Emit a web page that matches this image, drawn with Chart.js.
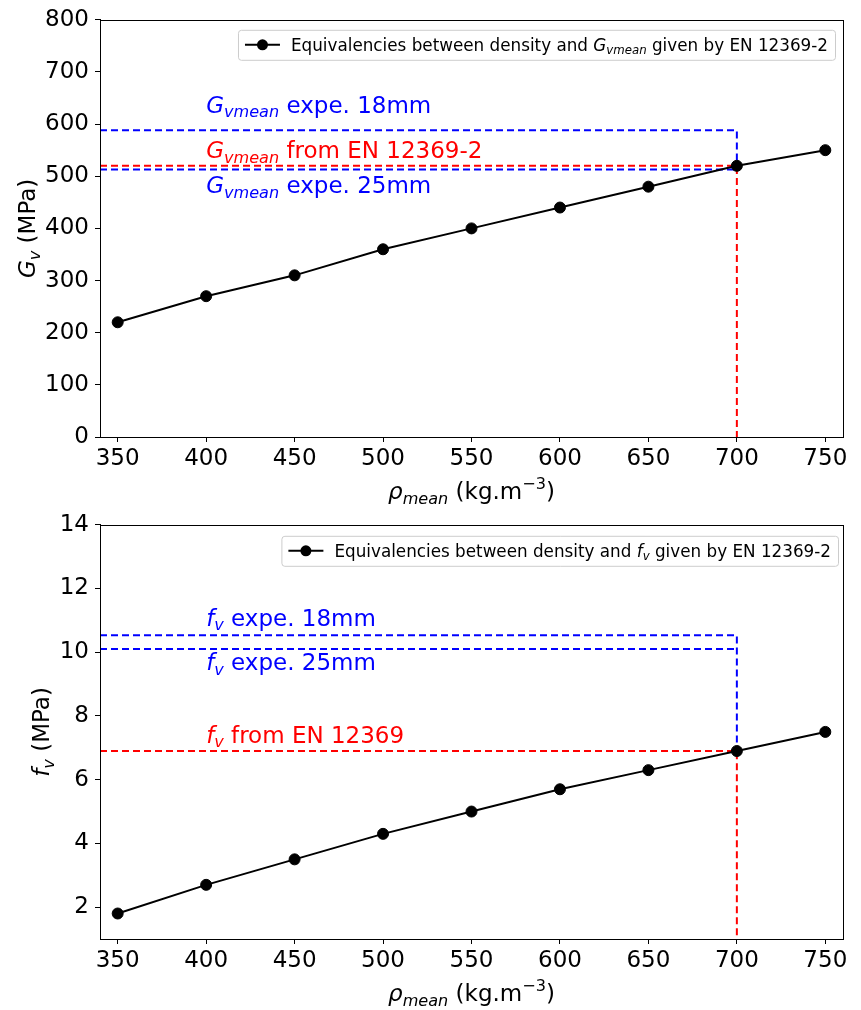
<!DOCTYPE html>
<html>
<head>
<meta charset="utf-8">
<script src="https://cdn.jsdelivr.net/npm/chart.js@4/dist/chart.umd.min.js"></script>
<style>
  html, body { margin: 0; padding: 0; background: #fff; }
  #wrap { position: relative; width: 861px; height: 1010px; }
  canvas { position: absolute; left: 0; }
</style>
</head>
<body>
<div id="wrap">
  <canvas id="gvChart" width="861" height="505" style="top:0"></canvas>
  <canvas id="fvChart" width="861" height="505" style="top:505px"></canvas>
</div>
<script>
// values
const density = [350, 400, 450, 500, 550, 600, 650, 700, 750];
const gvMean = [220, 270, 310, 360, 400, 440, 480, 520, 550];
const fvValues = [1.8, 2.7, 3.5, 4.3, 5.0, 5.7, 6.3, 6.9, 7.5];

const densityTicks = [350, 400, 450, 500, 550, 600, 650, 700, 750];
const gvTicks = [0, 100, 200, 300, 400, 500, 600, 700, 800];
const fvTicks = [2, 4, 6, 8, 10, 12, 14];

const densityRange = [340, 760];
const gvRange = [0, 800];
const fvRange = [1, 14];

// reference lines
const refDensity = 700;
const gvExpe18 = 588, gvExpe25 = 513, gvEN = 520;
const fvExpe18 = 10.53, fvExpe25 = 10.1, fvEN = 6.9;

const FONT = "'DejaVu Sans', sans-serif";
const TXT = 23; // main text size
const BLUE = "#0000ff";
const RED = "#ff0000";

function fontFor(kind, size) {
  const s = (kind === "sub" || kind === "sup") ? size * 0.7 : size;
  const it = (kind === "i" || kind === "sub") ? "italic " : "";
  return it + s + "px " + FONT;
}

function richWidth(ctx, parts, size) {
  let w = 0;
  parts.forEach(([t, k]) => { ctx.font = fontFor(k, size); w += ctx.measureText(t).width; });
  return w;
}

// parts: [text, kind] with kind n / i / sub / sup
function drawRich(ctx, parts, x, y, size, color, align) {
  ctx.save();
  ctx.fillStyle = color;
  ctx.textBaseline = "alphabetic";
  ctx.textAlign = "left";
  let cx = x;
  if (align === "center") cx -= richWidth(ctx, parts, size) / 2;
  parts.forEach(([t, k]) => {
    ctx.font = fontFor(k, size);
    let dy = 0;
    if (k === "sub") dy = size * 0.2;
    if (k === "sup") dy = -size * 0.42;
    ctx.fillText(t, cx, y + dy);
    cx += ctx.measureText(t).width;
  });
  ctx.restore();
}

function dashed(points, color) {
  return {
    data: points,
    borderColor: color,
    borderWidth: 2,
    borderDash: [7, 4],
    pointRadius: 0,
    fill: false,
    tension: 0
  };
}

const xTitle = [["\u03c1", "i"], ["mean", "sub"], [" (kg.m", "n"], ["\u22123", "sup"], [")", "n"]];

function decorPlugin(cfg) {
  return {
    id: "decor",
    afterDraw(chart) {
      const ctx = chart.ctx;
      const ca = chart.chartArea;
      const xs = chart.scales.x, ys = chart.scales.y;

      // frame
      ctx.save();
      ctx.strokeStyle = "#000";
      ctx.lineWidth = 1;
      ctx.strokeRect(Math.round(ca.left) + 0.5, Math.round(ca.top) + 0.5,
        Math.round(ca.right - ca.left), Math.round(ca.bottom - ca.top));
      ctx.restore();

      // annotations
      cfg.notes.forEach(n => {
        drawRich(ctx, n.parts, xs.getPixelForValue(n.x), ys.getPixelForValue(n.y), TXT, n.color, "left");
      });

      // axis titles
      drawRich(ctx, xTitle, (ca.left + ca.right) / 2, cfg.xTitleY, TXT, "#000", "center");
      ctx.save();
      ctx.translate(cfg.yTitleX, (ca.top + ca.bottom) / 2);
      ctx.rotate(-Math.PI / 2);
      drawRich(ctx, cfg.yTitle, 0, 0, TXT, "#000", "center");
      ctx.restore();

      // legend
      const s = 16.8;
      const tw = richWidth(ctx, cfg.legendText, s);
      const h = 30;
      const w = tw + 60;
      const right = ca.right - cfg.legendRight;
      const left = right - w;
      const top = ca.top + cfg.legendTop;
      ctx.save();
      ctx.beginPath();
      ctx.roundRect(left + 0.5, top + 0.5, w, h, 3);
      ctx.fillStyle = "rgba(255,255,255,0.8)";
      ctx.fill();
      ctx.strokeStyle = "#cccccc";
      ctx.lineWidth = 1;
      ctx.stroke();
      const my = top + h / 2;
      const hx0 = left + 7, hx1 = hx0 + 35;
      ctx.beginPath();
      ctx.moveTo(hx0, my);
      ctx.lineTo(hx1, my);
      ctx.strokeStyle = "#000";
      ctx.lineWidth = 2;
      ctx.stroke();
      ctx.beginPath();
      ctx.arc((hx0 + hx1) / 2, my, 5.5, 0, Math.PI * 2);
      ctx.fillStyle = "#000";
      ctx.fill();
      ctx.restore();
      drawRich(ctx, cfg.legendText, left + 53, my + s * 0.36, s, "#000", "left");
    }
  };
}

function makeChart(id, cfg) {
  const tickFont = { family: FONT, size: TXT };
  return new Chart(document.getElementById(id), {
    type: "line",
    data: {
      datasets: [{
        data: density.map((x, i) => ({ x: x, y: cfg.values[i] })),
        borderColor: "#000",
        backgroundColor: "#000",
        borderWidth: 2,
        pointRadius: 5.5,
        pointBorderWidth: 1,
        pointHoverRadius: 5.5,
        tension: 0
      }].concat(cfg.refs)
    },
    options: {
      responsive: false,
      animation: false,
      devicePixelRatio: 1,
      events: [],
      layout: { padding: { top: cfg.top, right: 18, left: 0, bottom: 0 } },
      plugins: { legend: { display: false }, tooltip: { enabled: false } },
      scales: {
        x: {
          type: "linear",
          min: densityRange[0],
          max: densityRange[1],
          afterBuildTicks: s => { s.ticks = densityTicks.map(v => ({ value: v })); },
          afterFit: s => { s.height = cfg.xHeight; },
          grid: { drawOnChartArea: false, drawTicks: true, tickLength: 5, color: "#000" },
          border: { display: true, color: "#000", width: 1 },
          ticks: { font: tickFont, color: "#000", padding: 3, maxRotation: 0 }
        },
        y: {
          type: "linear",
          min: cfg.range[0],
          max: cfg.range[1],
          afterBuildTicks: s => { s.ticks = cfg.ticks.map(v => ({ value: v })); },
          afterFit: s => { s.width = 100; },
          grid: { drawOnChartArea: false, drawTicks: true, tickLength: 5, color: "#000" },
          border: { display: true, color: "#000", width: 1 },
          ticks: { font: tickFont, color: "#000", padding: 6 }
        }
      }
    },
    plugins: [decorPlugin(cfg)]
  });
}

makeChart("gvChart", {
  values: gvMean,
  ticks: gvTicks,
  range: gvRange,
  top: 17,
  xHeight: 68,
  xTitleY: 499,
  yTitleX: 35,
  yTitle: [["G", "i"], ["v", "sub"], [" (MPa)", "n"]],
  legendRight: 8,
  legendTop: 10,
  legendText: [["Equivalencies between density and ", "n"], ["G", "i"], ["vmean", "sub"], [" given by EN 12369-2", "n"]],
  refs: [
    dashed([{ x: densityRange[0], y: gvExpe18 }, { x: refDensity, y: gvExpe18 }, { x: refDensity, y: gvExpe25 }], BLUE),
    dashed([{ x: densityRange[0], y: gvExpe25 }, { x: refDensity, y: gvExpe25 }], BLUE),
    dashed([{ x: densityRange[0], y: gvEN }, { x: refDensity, y: gvEN }, { x: refDensity, y: gvRange[0] }], RED)
  ],
  notes: [
    { x: 400, y: 622, color: BLUE, parts: [["G", "i"], ["vmean", "sub"], [" expe. 18mm", "n"]] },
    { x: 400, y: 535, color: RED, parts: [["G", "i"], ["vmean", "sub"], [" from EN 12369-2", "n"]] },
    { x: 400, y: 468, color: BLUE, parts: [["G", "i"], ["vmean", "sub"], [" expe. 25mm", "n"]] }
  ]
});

makeChart("fvChart", {
  values: fvValues,
  ticks: fvTicks,
  range: fvRange,
  top: 15,
  xHeight: 71,
  xTitleY: 496,
  yTitleX: 49,
  yTitle: [["f", "i"], ["v", "sub"], [" (MPa)", "n"]],
  legendRight: 5,
  legendTop: 11,
  legendText: [["Equivalencies between density and ", "n"], ["f", "i"], ["v", "sub"], [" given by EN 12369-2", "n"]],
  refs: [
    dashed([{ x: densityRange[0], y: fvExpe18 }, { x: refDensity, y: fvExpe18 }, { x: refDensity, y: fvEN }], BLUE),
    dashed([{ x: densityRange[0], y: fvExpe25 }, { x: refDensity, y: fvExpe25 }], BLUE),
    dashed([{ x: densityRange[0], y: fvEN }, { x: refDensity, y: fvEN }, { x: refDensity, y: fvRange[0] }], RED)
  ],
  notes: [
    { x: 400, y: 10.83, color: BLUE, parts: [["f", "i"], ["v", "sub"], [" expe. 18mm", "n"]] },
    { x: 400, y: 9.43, color: BLUE, parts: [["f", "i"], ["v", "sub"], [" expe. 25mm", "n"]] },
    { x: 400, y: 7.16, color: RED, parts: [["f", "i"], ["v", "sub"], [" from EN 12369", "n"]] }
  ]
});
</script>
</body>
</html>
